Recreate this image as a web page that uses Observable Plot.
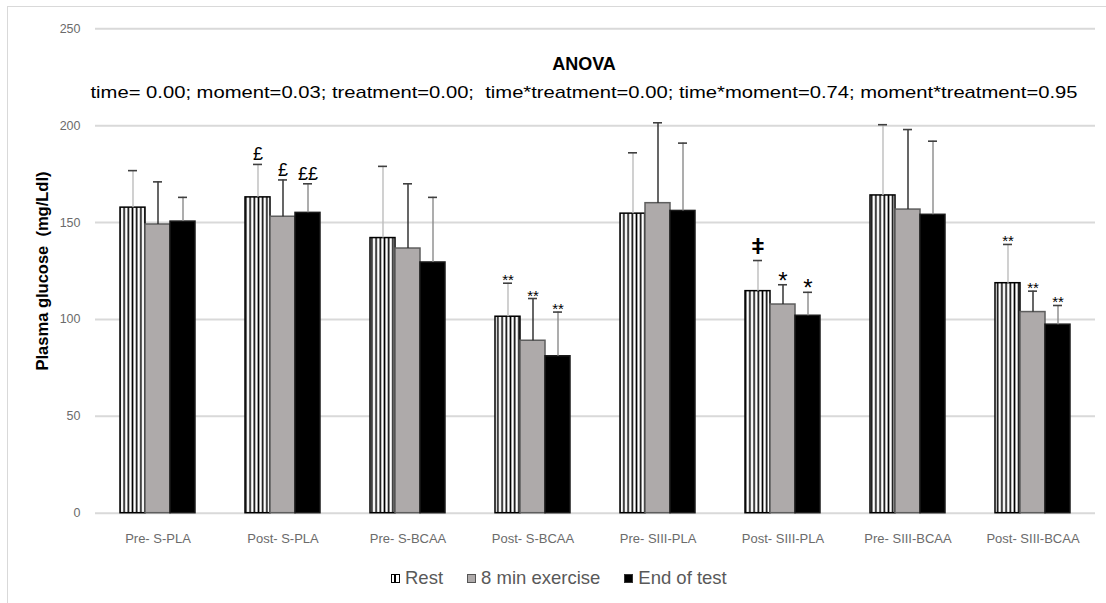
<!DOCTYPE html>
<html>
<head>
<meta charset="utf-8">
<script src="https://cdn.jsdelivr.net/npm/d3@7"></script>
<script src="https://cdn.jsdelivr.net/npm/@observablehq/plot@0.6"></script>
<style>
html, body { margin: 0; padding: 0; background: #fff; overflow: hidden; width: 1106px; height: 603px; }
#frame { position: absolute; left: 7px; top: 6px; width: 1120px; height: 620px; border-top: 1.5px solid #d9d9d9; border-left: 1.5px solid #d9d9d9; }
#chart { position: absolute; left: 0; top: 0; }
#ylabel { position: absolute; left: 42px; top: 271px; transform: translate(-50%, -50%) rotate(-90deg); white-space: pre; font: bold 16.5px "Liberation Sans", Arial, sans-serif; color: #000; }
#legend { position: absolute; left: 391px; top: 566px; height: 24px; display: flex; align-items: center; font: 18.5px "Liberation Sans", Arial, sans-serif; color: #595959; white-space: nowrap; }
#legend .item { display: flex; align-items: center; margin-right: 24px; }
#legend .sw { display: inline-block; width: 7px; height: 7px; margin-right: 5px; border: 1.5px solid #000; box-sizing: content-box; }
</style>
</head>
<body>
<div id="frame"></div>
<div id="chart"></div>
<div id="ylabel"></div>
<div id="legend"></div>
<script>
// ---- data ----
const categories = ["Pre- S-PLA", "Post- S-PLA", "Pre- S-BCAA", "Post- S-BCAA", "Pre- SIII-PLA", "Post- SIII-PLA", "Pre- SIII-BCAA", "Post- SIII-BCAA"];
const seriesNames = ["Rest", "8 min exercise", "End of test"];
const restMean     = [157.7, 163.0, 142.0, 101.4, 154.6, 114.6, 164.0, 118.7];
const exerciseMean = [149.0, 153.0, 136.6,  89.0, 160.0, 107.7, 156.7, 103.8];
const endMean      = [150.5, 155.0, 129.4,  81.0, 156.0, 101.9, 154.0,  97.3];
const restSD     = [19.1, 17.0, 37.0, 17.3, 31.4, 15.8, 36.5, 20.0];
const exerciseSD = [22.0, 19.0, 33.4, 21.8, 41.5, 10.2, 41.3, 10.8];
const endSD      = [12.5, 15.0, 33.6, 22.8, 35.0, 12.1, 38.0,  9.9];
const yTicks = [0, 50, 100, 150, 200, 250];
const annotCategory = ["Post- S-PLA", "Post- S-PLA", "Post- S-PLA", "Post- S-BCAA", "Post- S-BCAA", "Post- S-BCAA", "Post- SIII-PLA", "Post- SIII-PLA", "Post- SIII-PLA", "Post- SIII-BCAA", "Post- SIII-BCAA", "Post- SIII-BCAA"];
const annotSeries   = ["Rest", "8 min exercise", "End of test", "Rest", "8 min exercise", "End of test", "Rest", "8 min exercise", "End of test", "Rest", "8 min exercise", "End of test"];
const annotText     = ["£", "£", "££", "**", "**", "**", "ǂ", "*", "*", "**", "**", "**"];
const titleText = "ANOVA";
const subtitleText = "time= 0.00; moment=0.03; treatment=0.00;  time*treatment=0.00; time*moment=0.74; moment*treatment=0.95";
const yLabelText = "Plasma glucose  (mg/Ldl)";

// ---- build table ----
const means = [restMean, exerciseMean, endMean];
const sds = [restSD, exerciseSD, endSD];
const rows = [];
categories.forEach((c, i) => seriesNames.forEach((s, k) => rows.push({category: c, series: s, mean: means[k][i], sd: sds[k][i]})));
const annots = annotText.map((t, i) => {
  const r = rows.find(d => d.category === annotCategory[i] && d.series === annotSeries[i]);
  return {category: r.category, series: r.series, top: r.mean + r.sd, label: t};
});

// ---- styles ----
const dxOf = {"Rest": -25, "8 min exercise": 0, "End of test": 25};
const fillOf = {"Rest": "url(#stripes)", "8 min exercise": "#aeaaaa", "End of test": "#000"};
const strokeOf = {"Rest": "#000", "8 min exercise": "#5e5e5e", "End of test": "#1a1a1a"};
const errOf = {"Rest": "#bdbdbd", "8 min exercise": "#262626", "End of test": "#8a8a8a"};
const symStyle = {
  "£": {size: 18, dy: -4, weight: "normal"},
  "££": {size: 18, dy: -4, weight: "normal"},
  "**": {size: 15, dy: 2, weight: "normal"},
  "*": {size: 24, dy: 4, weight: "normal"},
  "ǂ": {size: 22, dy: -7, weight: "bold"}
};

const defsMark = () => {
  const ns = "http://www.w3.org/2000/svg";
  const defs = document.createElementNS(ns, "defs");
  const pat = document.createElementNS(ns, "pattern");
  pat.setAttribute("id", "stripes");
  pat.setAttribute("patternUnits", "userSpaceOnUse");
  pat.setAttribute("width", "4.2");
  pat.setAttribute("height", "8");
  const bg = document.createElementNS(ns, "rect");
  bg.setAttribute("width", "4.2"); bg.setAttribute("height", "8"); bg.setAttribute("fill", "#fff");
  const ln = document.createElementNS(ns, "rect");
  ln.setAttribute("x", "1.3"); ln.setAttribute("width", "1.6"); ln.setAttribute("height", "8"); ln.setAttribute("fill", "#000");
  pat.appendChild(bg); pat.appendChild(ln); defs.appendChild(pat);
  return defs;
};

const marks = [defsMark,
  Plot.gridY(yTicks, {stroke: "#d9d9d9", strokeWidth: 2, strokeOpacity: 1}),
  Plot.axisY(yTicks, {tickSize: 0, tickPadding: 15, fontSize: 12.5, fill: "#6b6b6b", label: null}),
  Plot.axisX({tickSize: 0, tickPadding: 21, fontSize: 13, fill: "#6b6b6b", label: null})
];
for (const s of seriesNames) {
  const data = rows.filter(d => d.series === s);
  marks.push(Plot.barY(data, {x: "category", y: "mean", dx: dxOf[s], fill: fillOf[s], stroke: strokeOf[s], strokeWidth: 1.5}));
}
for (const s of seriesNames) {
  const data = rows.filter(d => d.series === s);
  marks.push(Plot.ruleX(data, {x: "category", y1: "mean", y2: d => d.mean + d.sd, dx: dxOf[s], stroke: errOf[s], strokeWidth: 1.4}));
  marks.push(Plot.tickY(data, {x: "category", y: d => d.mean + d.sd, dx: dxOf[s], insetLeft: 8, insetRight: 8, stroke: "#404040", strokeWidth: 1.6}));
}
for (const a of annots) {
  const st = symStyle[a.label];
  marks.push(Plot.text([a], {x: "category", y: "top", text: "label", dx: dxOf[a.series], dy: st.dy, lineAnchor: "bottom", textAnchor: "middle", fontSize: st.size, fontWeight: st.weight, fill: "#000"}));
}
marks.push(Plot.text([titleText], {text: d => d, frameAnchor: "top-left", dx: 488.5, dy: 35.7, textAnchor: "middle", lineAnchor: "middle", fontSize: 18, fontWeight: "bold", fill: "#000"}));
marks.push(Plot.text([subtitleText], {text: d => d, frameAnchor: "top-left", dx: -5, dy: 63.7, textAnchor: "start", lineAnchor: "middle", fontSize: 17, fill: "#000"}));

const chart = Plot.plot({
  width: 1106,
  height: 560,
  marginLeft: 95,
  marginRight: 11,
  marginTop: 28.3,
  marginBottom: 47.3,
  style: {background: "transparent", fontFamily: "'Liberation Sans', Arial, sans-serif", overflow: "visible"},
  x: {domain: categories, paddingInner: 0.8, paddingOuter: 0.4},
  y: {domain: [0, 250]},
  marks
});
d3.select(chart).selectAll("text").filter(function () { return this.textContent === subtitleText; })
  .attr("textLength", 987).attr("lengthAdjust", "spacingAndGlyphs").style("white-space", "pre");
document.getElementById("chart").appendChild(chart);

document.getElementById("ylabel").textContent = yLabelText;

// legend
const swStyle = {
  "Rest": "background: repeating-linear-gradient(90deg, #fff 0 2px, #000 2px 3.5px, #fff 3.5px 7px); border-color:#000;",
  "8 min exercise": "background:#aeaaaa; border-color:#555;",
  "End of test": "background:#000; border-color:#333;"
};
const legend = document.getElementById("legend");
for (const s of seriesNames) {
  const item = document.createElement("div");
  item.className = "item";
  const sw = document.createElement("span");
  sw.className = "sw";
  sw.setAttribute("style", swStyle[s]);
  const tx = document.createElement("span");
  tx.textContent = s;
  item.appendChild(sw); item.appendChild(tx);
  legend.appendChild(item);
}
</script>
</body>
</html>
